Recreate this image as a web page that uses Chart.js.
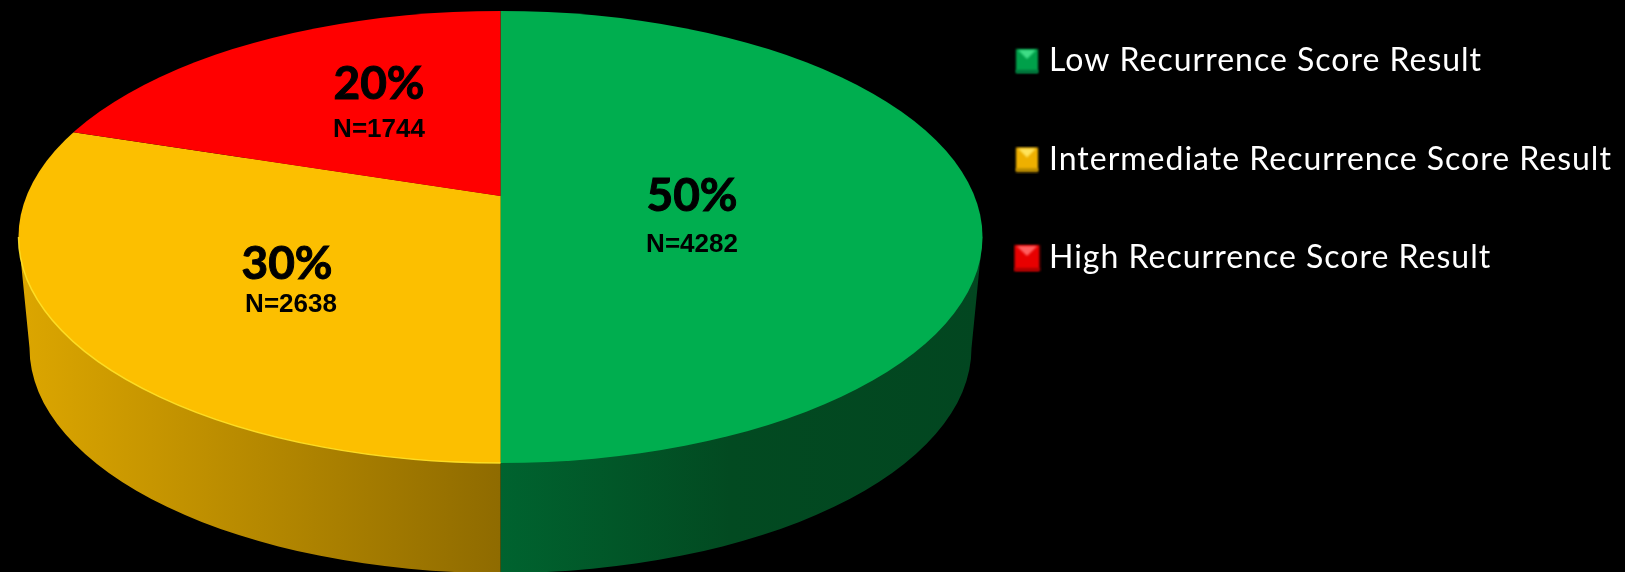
<!DOCTYPE html>
<html lang="en">
<head>
    <meta charset="UTF-8">
    <title>Recurrence Score Result</title>
    <style>
        html, body { margin: 0; background: #000; overflow: hidden; }
        canvas { display: block; }
    </style>
</head>
<body>
    <canvas id="pie" width="1625" height="572"></canvas>
    <script src="https://cdn.jsdelivr.net/npm/chart.js"></script>
    <script>
        const categories = ['Low Recurrence Score Result', 'Intermediate Recurrence Score Result', 'High Recurrence Score Result'];
        const percents = [50, 30, 20];
        const counts = [4282, 2638, 1744];
        const topColors = ['#00ae4f', '#fcbf00', '#ff0000'];

        // side wall shading, [x, colour]
        const wallStops = [
            [[500, '#00632f'], [730, '#024a21'], [985, '#024620']],
            [[20, '#dca600'], [500, '#8f6b00']],
            [[20, '#800000'], [500, '#800000']]
        ];
        const markerShades = [
            ['#00a04a', '#3fdc86', '#00703a'],
            ['#eeb000', '#ffe35c', '#b08400'],
            ['#e80000', '#ff6060', '#a80000']
        ];

        // the pie is seen in perspective: the slices meet above the middle of the top ellipse
        const vertex = { x: 500.5, y: 196 };
        const squash = 0.46;
        const topFace = { x: 500.5, y: 237, rx: 482, ry: 226 };
        const bottomFace = { x: 500.5, y: 348, rx: 471, ry: 225 };

        const labelSpots = [
            { x: 692, y: 211, nx: 692, ny: 252 },
            { x: 287, y: 279, nx: 291, ny: 312 },
            { x: 379, y: 99, nx: 379, ny: 137 }
        ];

        function makeMarker(shades, w, h) {
            const c = document.createElement('canvas');
            c.width = w + 4;
            c.height = h + 4;
            const g = c.getContext('2d');
            g.filter = 'blur(0.8px)';
            g.fillStyle = shades[0];
            g.fillRect(2, 2, w, h);
            g.fillStyle = shades[1];
            g.beginPath();
            g.moveTo(4, 3);
            g.lineTo(w, 3);
            g.lineTo(2 + w / 2, 2 + h * 0.42);
            g.closePath();
            g.fill();
            g.fillStyle = shades[2];
            g.fillRect(2, 2 + h - 3, w, 3);
            return c;
        }
        const markers = [makeMarker(markerShades[0], 22, 24), makeMarker(markerShades[1], 22, 24), makeMarker(markerShades[2], 25, 26)];

        function applyPieTransform(ctx, arc) {
            const s = 1000 / arc.outerRadius;
            ctx.translate(vertex.x, vertex.y);
            ctx.scale(s, s * squash);
            ctx.translate(-arc.x, -arc.y);
        }

        const pie3d = {
            id: 'pie3d',
            afterLayout(chart) {
                // legend sits at a fixed spot beside the pie
                const lg = chart.legend;
                lg.left = 1021 - lg.options.labels.padding;
                lg.top = 45 - lg.options.labels.padding;
            },
            beforeDraw(chart) {
                // legend text is spaced out a little in the reference
                chart.ctx.letterSpacing = '1px';
            },
            beforeDatasetsDraw(chart) {
                const ctx = chart.ctx;
                const arcs = chart.getDatasetMeta(0).data;

                // wall: bottom ellipse plus the band up to the top ellipse
                ctx.save();
                ctx.beginPath();
                ctx.moveTo(topFace.x - topFace.rx, topFace.y);
                ctx.lineTo(topFace.x + topFace.rx, topFace.y);
                ctx.lineTo(bottomFace.x + bottomFace.rx, bottomFace.y);
                ctx.lineTo(bottomFace.x - bottomFace.rx, bottomFace.y);
                ctx.closePath();
                ctx.moveTo(bottomFace.x + bottomFace.rx, bottomFace.y);
                ctx.ellipse(bottomFace.x, bottomFace.y, bottomFace.rx, bottomFace.ry, 0, 0, Math.PI * 2);
                ctx.clip();
                arcs.forEach((arc, i) => {
                    const stops = wallStops[i];
                    const grad = ctx.createLinearGradient(stops[0][0], 0, stops[stops.length - 1][0], 0);
                    const span = stops[stops.length - 1][0] - stops[0][0];
                    stops.forEach(st => grad.addColorStop((st[0] - stops[0][0]) / span, st[1]));
                    ctx.save();
                    applyPieTransform(ctx, arc);
                    ctx.beginPath();
                    ctx.moveTo(arc.x, arc.y);
                    ctx.arc(arc.x, arc.y, arc.outerRadius, arc.startAngle, arc.endAngle);
                    ctx.closePath();
                    ctx.restore();
                    ctx.fillStyle = grad;
                    ctx.fill();
                });
                ctx.restore();

                // top face: the library's own arcs, cut to the ellipse
                ctx.save();
                ctx.beginPath();
                ctx.ellipse(topFace.x, topFace.y, topFace.rx, topFace.ry, 0, 0, Math.PI * 2);
                ctx.clip();
                applyPieTransform(ctx, arcs[0]);
            },
            afterDatasetsDraw(chart) {
                const ctx = chart.ctx;
                ctx.restore();

                // light rim on the yellow edge
                ctx.save();
                ctx.strokeStyle = 'rgba(255, 226, 40, 0.9)';
                ctx.lineWidth = 1.5;
                ctx.beginPath();
                ctx.ellipse(topFace.x, topFace.y, topFace.rx, topFace.ry, 0, Math.PI / 2, Math.PI);
                ctx.stroke();
                ctx.restore();

                ctx.save();
                ctx.letterSpacing = '0px';
                ctx.fillStyle = '#000';
                ctx.strokeStyle = '#000';
                ctx.lineWidth = 1;
                ctx.textAlign = 'center';
                ctx.textBaseline = 'alphabetic';
                labelSpots.forEach((p, i) => {
                    ctx.font = 'bold 46px Lato';
                    ctx.fillText(percents[i] + '%', p.x, p.y);
                    ctx.strokeText(percents[i] + '%', p.x, p.y);
                    ctx.font = 'bold 26px "Liberation Sans"';
                    ctx.fillText('N=' + counts[i], p.nx, p.ny);
                });
                ctx.restore();
            }
        };

        new Chart(document.getElementById('pie'), {
            type: 'pie',
            data: {
                labels: categories,
                datasets: [{
                    data: percents,
                    backgroundColor: topColors,
                    borderWidth: 0,
                    clip: false
                }]
            },
            options: {
                responsive: false,
                animation: false,
                plugins: {
                    tooltip: { enabled: false },
                    legend: {
                        position: 'right',
                        align: 'start',
                        labels: {
                            color: '#fff',
                            font: { family: 'Lato', size: 32 },
                            usePointStyle: true,
                            boxWidth: 12,
                            padding: 66.5,
                            generateLabels(chart) {
                                const items = Chart.overrides.doughnut.plugins.legend.labels.generateLabels(chart);
                                items.forEach((it, i) => { it.pointStyle = markers[i]; });
                                return items;
                            }
                        }
                    }
                }
            },
            plugins: [pie3d]
        });
    </script>
</body>
</html>
